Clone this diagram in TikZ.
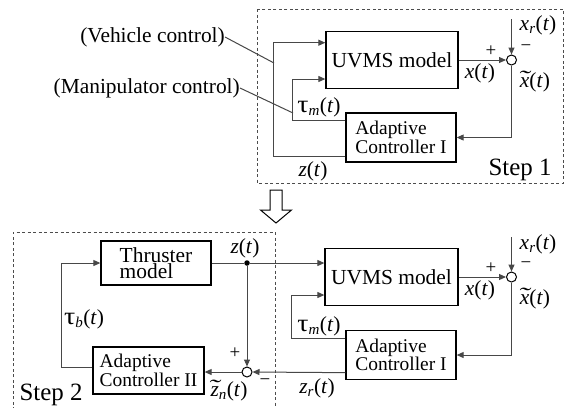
\documentclass[tikz,border=0pt]{standalone}
\usepackage{fontspec}
\usepackage{graphicx}
\setmainfont{Liberation Serif}
\usetikzlibrary{arrows.meta}
\newcommand{\vi}[1]{\textit{#1}}
\newcommand{\tld}[1]{\ooalign{\vi{#1}\cr\hidewidth\raisebox{0.15ex}{\scalebox{1.6}[1]{\vi{\char"02DC}}}\hidewidth\cr}}
\newcommand{\tauu}{\scalebox{1.3}[1.15]{τ}}
\begin{document}
\begin{tikzpicture}[x=1bp,y=-1bp,
  blk/.style={draw=black,line width=1.3bp,inner sep=0pt,font=\fontsize{21.5}{22}\selectfont},
  ctl/.style={blk,align=left,font=\fontsize{19.5}{17.5}\selectfont},
  conn/.style={draw=black!72,line width=1bp},
  arr/.style={conn,-{Triangle[length=7bp,width=6bp]}},
  sumc/.style={circle,draw=black,line width=1bp,minimum size=10bp,inner sep=0pt,fill=white},
  dot/.style={circle,fill=black,minimum size=5.5bp,inner sep=0pt},
  lbl/.style={inner sep=0pt,font=\fontsize{21.5}{22}\selectfont},
  steplbl/.style={inner sep=0pt,font=\fontsize{25}{25}\selectfont},
  pm/.style={inner sep=0pt,font=\fontsize{19}{19}\selectfont},
  dashbox/.style={draw=black!70,line width=0.8bp,dash pattern=on 3bp off 2.5bp}]
\useasboundingbox (0,0) rectangle (573,407);

% ---------------- Step 1 ----------------
\draw[dashbox] (257,9) rectangle (563,183);
\node[blk,minimum width=132bp,minimum height=57bp] (uvms1) at (392,60) {UVMS model};
\node[ctl,minimum width=110bp,minimum height=49bp] (ac1) at (401,137.5) {Adaptive\\Controller I};
\node[sumc] (s1) at (511.5,60) {};
\coordinate (xr1) at (511.5,19);

\draw[arr] (uvms1.east) -- (s1.west);
\draw[arr] (xr1) -- (s1.north);
\draw[arr] (s1.south) |- (ac1.east);
\draw[arr] ([yshift=6.5bp]ac1.south west) -- ++(-72,0) |- ([yshift=17.3bp]uvms1.west);
\draw[arr] ([yshift=-8bp]ac1.north west) -- ++(-53,0) |- ([yshift=-19bp]uvms1.west);

\node[pm] (p1) at (491,51) {+};
\node[pm] (m1) at (526,48) {\textminus};
\node[lbl] (xrl1) at (538,25) {\vi{x}\textsubscript{\vi{r}}(\vi{t})};
\node[lbl] (xl1) at (480,73) {\vi{x}(\vi{t})};
\node[lbl] (xtl1) at (535,82) {\tld{x}(\vi{t})};
\node[lbl] (taum1) at (319,107) {\tauu\textsubscript{\vi{m}}(\vi{t})};
\node[lbl] (zl1) at (313,171) {\vi{z}(\vi{t})};
\node[steplbl] (st1) at (520,170) {Step 1};

\node[lbl,anchor=east] (veh) at (225,37) {(Vehicle control)};
\node[lbl,anchor=east] (man) at (240,88) {(Manipulator control)};
\coordinate (vehend) at (274,63);
\coordinate (manend) at (293,113);
\draw[conn] (veh.east) -- (vehend);
\draw[conn] (man.east) -- (manend);

% ---------------- transition arrow ----------------
\draw[black,line width=1bp,fill=white,line join=miter]
  (270,190) -- (282,190) -- (282,210) -- (291.5,210) -- (276,223) -- (260.5,210) -- (270,210) -- cycle;

% ---------------- Step 2 ----------------
\draw[dashbox] (13,410) -- (13,232) -- (275,232) -- (275,410);
\node[blk,minimum width=133bp,minimum height=57bp] (uvms2) at (391.5,277) {UVMS model};
\node[ctl,minimum width=110bp,minimum height=49bp] (ac1b) at (401,355) {Adaptive\\Controller I};
\node[sumc] (s2r) at (511.5,277) {};
\coordinate (xr2) at (511.5,237);

\node[blk,align=left,font=\fontsize{21.5}{16.5}\selectfont,minimum width=110bp,minimum height=44bp] (thr) at (156,263) {Thruster\\model};
\node[ctl,minimum width=111bp,minimum height=47bp] (ac2) at (148.5,370.5) {Adaptive\\Controller II};
\node[dot] (zd) at (247,263) {};
\node[sumc] (s2) at (247,372) {};

\draw[arr] (uvms2.east) -- (s2r.west);
\draw[arr] (xr2) -- (s2r.north);
\draw[arr] (s2r.south) |- (ac1b.east);
\draw[arr] ([yshift=-8.5bp]ac1b.north west) -- ++(-54,0) |- ([yshift=-18bp]uvms2.west);
\draw[conn] (thr.east) -- (zd);
\draw[arr] (zd) -- (zd -| uvms2.west);
\draw[arr] (zd) -- (s2.north);
\draw[arr] ([yshift=7.5bp]ac1b.south west) -- (s2.east);
\draw[arr] (s2.west) -- (s2.west -| ac2.east);
\draw[arr] ([yshift=3.5bp]ac2.west) -- ++(-31,0) |- (thr.west);

\node[pm] (p2r) at (491,268) {+};
\node[pm] (m2r) at (526,265) {\textminus};
\node[lbl] (xrl2) at (538,244) {\vi{x}\textsubscript{\vi{r}}(\vi{t})};
\node[lbl] (xl2) at (480,290) {\vi{x}(\vi{t})};
\node[lbl] (xtl2) at (535,299) {\tld{x}(\vi{t})};
\node[lbl] (taum2) at (319,326) {\tauu\textsubscript{\vi{m}}(\vi{t})};
\node[lbl] (zrl) at (317,388) {\vi{z}\textsubscript{\vi{r}}(\vi{t})};
\node[lbl] (zl2) at (245,248) {\vi{z}(\vi{t})};
\node[lbl] (taub) at (84,319) {\tauu\textsubscript{\vi{b}}(\vi{t})};
\node[pm] (p2) at (235,353) {+};
\node[pm] (m2) at (265,382) {\textminus};
\node[lbl] (ztl) at (229,391) {\tld{z}\textsubscript{\vi{n}}(\vi{t})};
\node[steplbl] (st2) at (51,395) {Step 2};
\end{tikzpicture}
\end{document}
